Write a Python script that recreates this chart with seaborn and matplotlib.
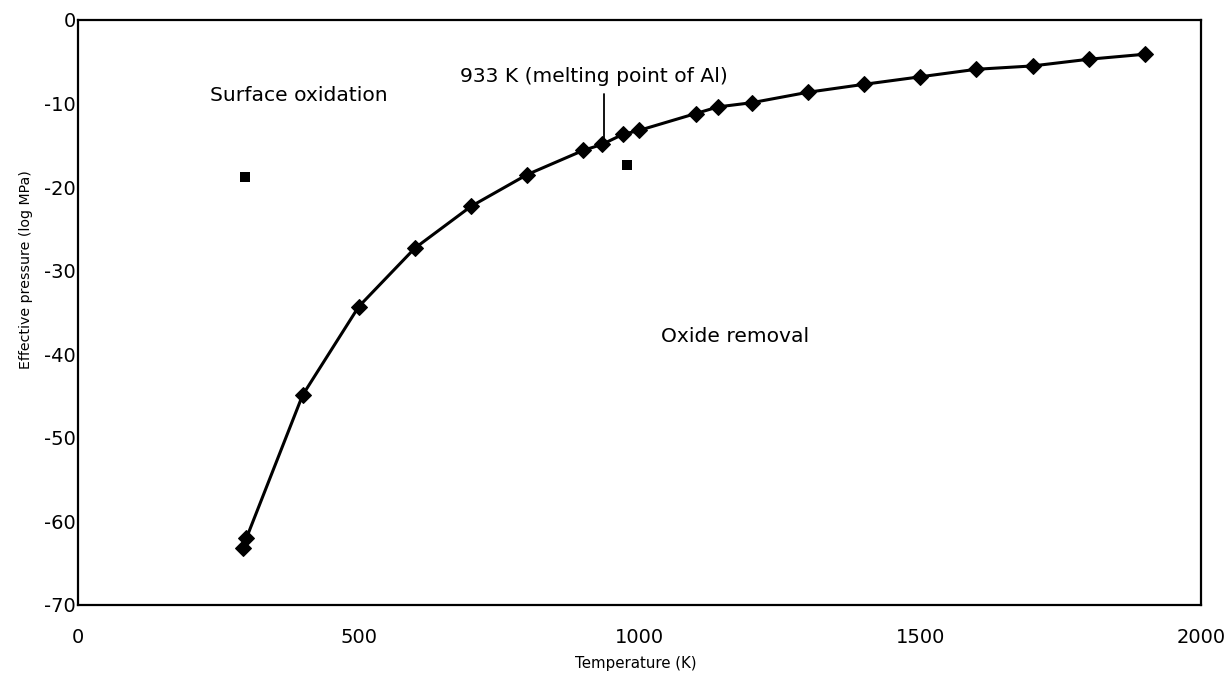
import matplotlib
matplotlib.use("Agg")
import matplotlib.pyplot as plt
import seaborn as sns
import pandas as pd

# Data
temperature_k = [293, 300, 400, 500, 600, 700, 800, 900, 933, 970, 1000,
                 1100, 1140, 1200, 1300, 1400, 1500, 1600, 1700, 1800, 1900]
effective_pressure = [-63.2, -62.0, -44.9, -34.3, -27.3, -22.3, -18.5, -15.6, -14.9,
                      -13.7, -13.2, -11.2, -10.4, -9.9, -8.65, -7.7, -6.8, -5.9,
                      -5.5, -4.7, -4.1]
square_t = [297, 977]
square_p = [-18.8, -17.3]

x_ticks = [0, 500, 1000, 1500, 2000]
y_ticks = [0, -10, -20, -30, -40, -50, -60, -70]

sns.set_theme(style="white")
plt.rcParams['font.family'] = ['DejaVu Sans']

fig = plt.figure(figsize=(12.3, 6.77), dpi=100)
ax = fig.add_axes([0.0634, 0.1064, 0.913, 0.8641])

df = pd.DataFrame({"T": temperature_k, "P": effective_pressure})
sns.lineplot(data=df, x="T", y="P", ax=ax, color="black", linewidth=2.2,
             marker="D", markersize=8.5, markeredgecolor="black",
             markerfacecolor="black", sort=False)
sq = pd.DataFrame({"T": square_t, "P": square_p})
sns.scatterplot(data=sq, x="T", y="P", ax=ax, marker="s", s=60,
                color="black", edgecolor="black", linewidth=0)

ax.set_xlim(0, 2000)
ax.set_ylim(-70, 0)
ax.set_xticks(x_ticks)
ax.set_yticks(y_ticks)
ax.set_xticklabels([str(v) for v in x_ticks], fontsize=14)
ax.set_yticklabels([str(v) for v in y_ticks], fontsize=14)
ax.tick_params(axis="x", direction="in", length=7, width=1.2, pad=16.5, colors="black")
ax.tick_params(axis="y", direction="in", length=11, width=1.2, pad=1.5, colors="black")
for s in ax.spines.values():
    s.set_color("black")
    s.set_linewidth(1.6)

ax.set_xlabel("Temperature (K)", fontsize=10.8, color="black")
ax.set_ylabel("Effective pressure (log MPa)", fontsize=10.2, color="black")
ax.xaxis.set_label_coords(0.497, -0.087)
ax.yaxis.set_label_coords(-0.040, 0.573)

ax.text(235, -9.0, "Surface oxidation", fontsize=14.6, va="center", ha="left", color="black")
ax.text(1039, -37.9, "Oxide removal", fontsize=14.6, va="center", ha="left", color="black")
ax.text(919, -6.8, "933 K (melting point of Al)", fontsize=14.6, va="center",
        ha="center", color="black")
ax.plot([936, 936], [-8.9, -14.5], color="black", linewidth=1.3)

fig.savefig("out.png", dpi=100, facecolor="white")
